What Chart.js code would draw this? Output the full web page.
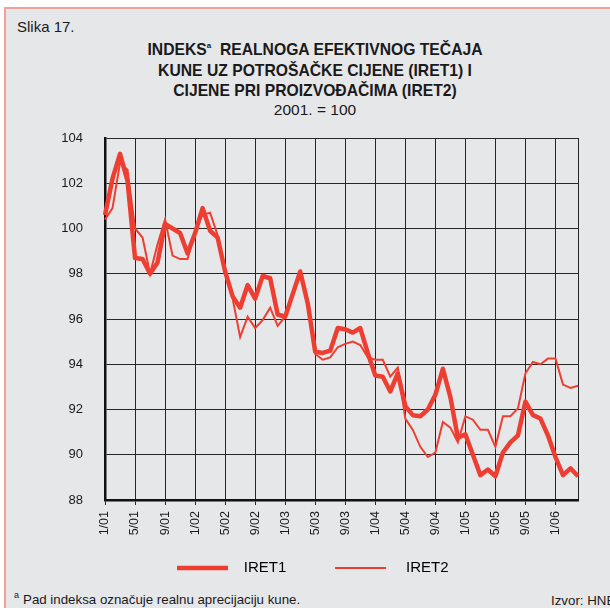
<!DOCTYPE html>
<html>
<head>
<meta charset="utf-8">
<script src="https://cdn.jsdelivr.net/npm/chart.js@4/dist/chart.umd.min.js"></script>
<style>
    body { margin: 0; background: #fff; overflow: hidden; width: 610px; height: 608px; position: relative; font-family: "Liberation Sans", Arial, sans-serif; color: #1a1a1a; }
    #frame { position: absolute; left: 4px; top: 7px; width: 700px; height: 700px; background: #e6e7e9; border-left: 2px solid #f2a09c; border-top: 2px solid #f2a09c; }
    .txt { position: absolute; white-space: nowrap; }
    #slika { left: 17px; top: 18px; font-size: 15px; }
    #title { left: 0; width: 630px; top: 36px; text-align: center; font-size: 15.7px; font-weight: bold; line-height: 20.5px; }
    #title sup { font-size: 8px; vertical-align: 7px; }
    #base { left: 0; width: 630px; top: 101px; text-align: center; font-size: 15.5px; }
    #note { left: 14px; top: 590px; font-size: 13.3px; }
    #note sup { font-size: 9px; vertical-align: 6px; margin-right: 4px; }
    #source { left: 551px; top: 593px; font-size: 13.3px; }
    canvas { position: absolute; left: 0; top: 0; }
</style>
</head>
<body>
<div id="frame"></div>
<div class="txt" id="slika">Slika 17.</div>
<div class="txt" id="title">INDEKS<sup>a</sup>&nbsp; REALNOGA EFEKTIVNOG TEČAJA<br>KUNE UZ POTROŠAČKE CIJENE (IRET1) I<br>CIJENE PRI PROIZVOĐAČIMA (IRET2)</div>
<div class="txt" id="base">2001. = 100</div>
<div class="txt" id="note"><sup>a</sup>Pad indeksa označuje realnu aprecijaciju kune.</div>
<div class="txt" id="source">Izvor: HNB</div>
<canvas id="chart" width="610" height="608"></canvas>
<script>
// Months 1/01 .. 4/06
const months = [];
for (let y = 1; y <= 6; y++) {
    for (let m = 1; m <= 12; m++) {
        if (months.length < 64) months.push(m + "/0" + y);
    }
}

// IRET1 - consumer prices
const iret1 = [
    100.6, 102.2, 103.3, 102.1, 98.7, 98.65, 98.0, 98.5, 100.2, 100.0,
    99.8, 98.9, 99.8, 100.9, 99.9, 99.6, 98.1, 97.0, 96.5, 97.5,
    96.9, 97.9, 97.8, 96.2, 96.1, 97.1, 98.1, 96.7, 94.55, 94.5,
    94.6, 95.6, 95.55, 95.4, 95.6, 94.5, 93.5, 93.45, 92.8, 93.6,
    92.15, 91.75, 91.7, 92.0, 92.65, 93.8, 92.55, 90.75, 90.9, 90.0,
    89.1, 89.35, 89.05, 90.1, 90.55, 90.85, 92.35, 91.75, 91.6, 90.85,
    89.9, 89.1, 89.4, 89.05
];

// IRET2 - producer prices
const iret2 = [
    100.4, 100.9, 102.9, 102.6, 100.0, 99.6, 98.0, 99.3, 100.4, 98.8,
    98.65, 98.65, 99.9, 100.6, 100.7, 99.7, 98.2, 96.9, 95.2, 96.1,
    95.6, 95.95, 96.5, 95.7, 96.1, 97.1, 98.0, 96.6, 94.45, 94.2,
    94.3, 94.75, 94.9, 95.0, 94.85, 94.3, 94.2, 94.2, 93.45, 93.85,
    91.6, 91.1, 90.35, 89.9, 90.1, 91.45, 91.2, 90.55, 91.7, 91.55,
    91.1, 91.1, 90.35, 91.7, 91.7, 92.05, 93.6, 94.1, 94.0, 94.25,
    94.25, 93.1, 92.95, 93.05
];

const seriesNames = ["IRET1", "IRET2"];
const yTicks = [88, 90, 92, 94, 96, 98, 100, 102, 104];

const red = "rgb(238, 62, 50)";
const gridColor = "#262626";

Chart.defaults.font.family = "'Liberation Sans', Arial, sans-serif";
Chart.defaults.color = "#1a1a1a";

// grid line only on every 4th month and at the right edge
const showLine = (ctx) => (ctx.index % 4 === 0 || ctx.index === months.length - 1);

new Chart(document.getElementById("chart"), {
    type: "line",
    data: {
        labels: months,
        datasets: [
            {
                label: seriesNames[0],
                data: iret1,
                borderColor: red,
                borderWidth: 4.5,
                pointRadius: 0,
                tension: 0,
                borderJoinStyle: "round",
                order: 1,
            },
            {
                label: seriesNames[1],
                data: iret2,
                borderColor: red,
                borderWidth: 2,
                pointRadius: 0,
                tension: 0,
                order: 2,
            },
        ],
    },
    options: {
        responsive: false,
        animation: false,
        layout: { padding: { top: 138, left: 47.6, right: 32, bottom: 22.5 } },
        plugins: {
            tooltip: { enabled: false },
            legend: {
                position: "bottom",
                labels: {
                    usePointStyle: true,
                    pointStyleWidth: 51,
                    padding: 11.2,
                    font: { size: 15 },
                    color: "#1a1a1a",
                    // extra spaces keep the gaps of the original legend
                    generateLabels: (chart) => chart.data.datasets.map((ds, i) => ({
                        text: i === 0 ? "  " + ds.label + "         " : "   " + ds.label,
                        strokeStyle: ds.borderColor,
                        fillStyle: ds.borderColor,
                        lineWidth: ds.borderWidth,
                        pointStyle: "line",
                        datasetIndex: i,
                    })),
                },
            },
        },
        scales: {
            x: {
                type: "category",
                afterFit: (scale) => { scale.height = 49.3; },
                border: { display: true, color: "#111", width: 2.5 },
                grid: {
                    color: (ctx) => showLine(ctx) ? gridColor : "transparent",
                    tickColor: (ctx) => (ctx.index % 4 === 0) ? gridColor : "transparent",
                    tickLength: 5,
                    lineWidth: 1,
                },
                ticks: {
                    autoSkip: false,
                    maxRotation: 90,
                    minRotation: 90,
                    padding: 6,
                    font: { size: 12.5 },
                    callback: function (value, index) {
                        return index % 4 === 0 ? this.getLabelForValue(value) : "";
                    },
                },
            },
            y: {
                min: yTicks[0],
                max: yTicks[yTicks.length - 1],
                afterFit: (scale) => { scale.width = 57.4; },
                afterBuildTicks: (scale) => { scale.ticks = yTicks.map(v => ({ value: v })); },
                border: { display: true, color: "#111", width: 2.5 },
                grid: { color: gridColor, lineWidth: 1, drawTicks: false },
                ticks: { padding: 22, font: { size: 13 } },
            },
        },
    },
});
</script>
</body>
</html>
